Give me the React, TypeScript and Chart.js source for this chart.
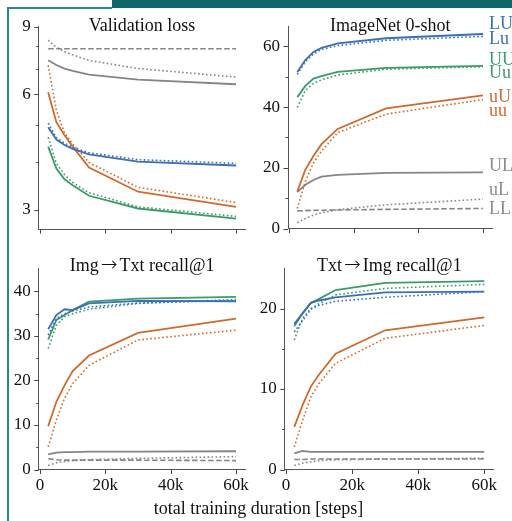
import React, { useEffect, useRef } from "react";
import { Chart, registerables } from "chart.js";
Chart.register(...registerables);

const FONT = '"Liberation Serif", "Times New Roman", serif';
const ARROW_FONT = '"DejaVu Sans", sans-serif';

// ---------- data ----------
const steps = [2500, 5000, 7500, 10000, 15000, 30000, 60000];
const xTickValues = [0, 20000, 40000, 60000];

// Validation loss
const lossLU = [4.92, 4.57, 4.42, 4.32, 4.18, 4.0, 3.91];
const lossLu = [5.04, 4.62, 4.47, 4.36, 4.22, 4.05, 3.96];
const lossUU = [4.38, 3.84, 3.6, 3.47, 3.26, 3.02, 2.84];
const lossUu = [4.63, 3.96, 3.7, 3.53, 3.32, 3.05, 2.88];
const lossuU = [6.07, 5.07, 4.69, 4.38, 3.86, 3.34, 3.05];
const lossuu = [7.14, 5.45, 4.75, 4.45, 3.98, 3.43, 3.13];
const lossUL = [7.36, 7.15, 7.0, 6.9, 6.75, 6.55, 6.37];
const lossuL = [8.3, 7.95, 7.75, 7.6, 7.35, 7.0, 6.65];
const lossLL = [7.88, 7.88, 7.88, 7.88, 7.88, 7.88, 7.88];

// ImageNet 0-shot
const inLU = [51.6, 55.5, 58.2, 59.5, 61.0, 62.7, 64.1];
const inLu = [50.8, 55.0, 57.5, 59.0, 60.3, 62.0, 63.3];
const inUU = [43.3, 47.0, 49.4, 50.2, 51.6, 52.9, 53.6];
const inUu = [39.9, 45.5, 47.8, 49.0, 50.6, 52.5, 53.3];
const inuU = [12.2, 19.4, 23.9, 27.8, 32.8, 39.6, 43.9];
const inuu = [6.6, 15.5, 21.6, 25.5, 31.6, 37.7, 42.5];
const inUL = [12.0, 14.4, 16.0, 17.1, 17.7, 18.3, 18.5];
const inuL = [1.9, 3.3, 4.4, 5.2, 6.2, 7.8, 9.7];
const inLL = [5.8, 5.9, 6.0, 6.0, 6.1, 6.3, 6.6];

// Img->Txt recall@1
const i2tLU = [31.5, 34.7, 36.0, 35.8, 37.3, 37.9, 37.8];
const i2tLu = [30.2, 33.9, 35.0, 35.6, 36.5, 37.4, 38.0];
const i2tUU = [29.2, 33.6, 34.7, 35.8, 37.7, 38.4, 38.8];
const i2tUu = [27.2, 32.4, 34.3, 35.0, 36.0, 37.3, 38.2];
const i2tuU = [9.7, 15.2, 18.9, 22.1, 25.6, 30.7, 33.9];
const i2tuu = [5.1, 11.1, 16.0, 19.3, 23.4, 29.1, 31.3];
const i2tUL = [3.4, 3.8, 3.9, 3.9, 4.0, 4.0, 4.1];
const i2tuL = [0.9, 1.5, 1.8, 2.0, 2.2, 2.5, 2.9];
const i2tLL = [2.4, 2.2, 2.1, 2.1, 2.1, 2.1, 2.0];

// Txt->Img recall@1
const t2iLU = [18.1, 19.4, 20.7, 21.0, 21.4, 22.0, 22.1];
const t2iLu = [17.1, 18.5, 19.9, 20.4, 20.9, 21.4, 22.1];
const t2iUU = [17.8, 19.4, 20.7, 21.2, 22.3, 23.2, 23.4];
const t2iUu = [16.1, 18.8, 20.0, 20.6, 21.7, 22.5, 23.0];
const t2iuU = [5.3, 8.0, 10.3, 11.8, 14.4, 17.3, 18.9];
const t2iuu = [2.8, 6.1, 9.0, 10.7, 13.2, 16.3, 17.9];
const t2iUL = [2.0, 2.3, 2.2, 2.2, 2.2, 2.2, 2.2];
const t2iuL = [0.5, 0.8, 0.95, 1.1, 1.2, 1.3, 1.4];
const t2iLL = [1.25, 1.25, 1.3, 1.3, 1.3, 1.3, 1.3];

// y tick values (all) and labelled ones
const lossTicks = [3, 4, 5, 6, 7, 8, 9];
const lossMajor = [3, 6, 9];
const inTicks = [0, 10, 20, 30, 40, 50, 60];
const inMajor = [0, 20, 40, 60];
const i2tTicks = [0, 5, 10, 15, 20, 25, 30, 35, 40];
const i2tMajor = [0, 10, 20, 30, 40];
const t2iTicks = [0, 5, 10, 15, 20];
const t2iMajor = [0, 10, 20];

// series names / legend labels (ImageNet panel)
const seriesNames = ["LU", "Lu", "UU", "Uu", "uU", "uu", "UL", "uL", "LL"];
const legendValues = [67.2, 62.5, 55.5, 51.2, 43.2, 38.6, 20.5, 12.6, 6.4];

// ---------- styles ----------
const BLUE = "#3a6fb5";
const GREEN = "#3c9a6b";
const ORANGE = "#d0692c";
const GRAY = "#858585";
const seriesColor = [BLUE, BLUE, GREEN, GREEN, ORANGE, ORANGE, GRAY, GRAY, GRAY];
const seriesStyle = ["solid", "dot", "solid", "dot", "solid", "dot", "solid", "dot", "dash"];

function makeDatasets(vals: number[][]) {
  return vals.map((v, k) => {
    const st = seriesStyle[k];
    return {
      label: seriesNames[k],
      data: steps.map((s, i) => ({ x: s, y: v[i] })),
      borderColor: seriesColor[k],
      borderWidth: st === "solid" ? 1.8 : 1.6,
      borderDash: st === "dot" ? [1.6, 2.4] : st === "dash" ? [5.5, 2.5] : [],
      borderCapStyle: "butt",
      pointRadius: 0,
      fill: false,
      tension: 0,
    };
  });
}

function drawTitle(ctx: CanvasRenderingContext2D, text: string, cx: number, baseline: number) {
  const parts = text.split("→");
  const mainFont = `18px ${FONT}`;
  const arrowFont = `200 20px ${ARROW_FONT}`;
  const gap = 2;
  ctx.font = mainFont;
  const w0 = ctx.measureText(parts[0]).width;
  const w2 = parts.length > 1 ? ctx.measureText(parts[1]).width : 0;
  ctx.font = arrowFont;
  const wa = parts.length > 1 ? ctx.measureText("→").width + gap * 2 : 0;
  const total = w0 + wa + w2;
  let x = cx - total / 2;
  ctx.textAlign = "left";
  ctx.textBaseline = "alphabetic";
  ctx.font = mainFont;
  ctx.fillText(parts[0], x, baseline);
  x += w0;
  if (parts.length > 1) {
    ctx.font = arrowFont;
    ctx.fillText("→", x + gap, baseline - 0.5);
    x += wa;
    ctx.font = mainFont;
    ctx.fillText(parts[1], x, baseline);
  }
}

const decorPlugin = {
  id: "decor",
  afterDraw(chart: any, _args: any, opts: any) {
    const ctx = chart.ctx;
    const xs = chart.scales.x;
    const ys = chart.scales.y;
    const ca = chart.chartArea;
    ctx.save();
    ctx.strokeStyle = "#444";
    ctx.lineWidth = 1;
    // y ticks
    for (const t of ys.ticks) {
      const py = Math.round(ys.getPixelForValue(t.value)) + 0.5;
      const len = t.major ? 4.5 : 2.5;
      ctx.beginPath();
      ctx.moveTo(ca.left - len, py);
      ctx.lineTo(ca.left, py);
      ctx.stroke();
    }
    // x ticks
    for (const t of xs.ticks) {
      const px = Math.round(xs.getPixelForValue(t.value)) + 0.5;
      ctx.beginPath();
      ctx.moveTo(px, ca.bottom);
      ctx.lineTo(px, ca.bottom + 4.5);
      ctx.stroke();
    }
    // title
    ctx.fillStyle = "#111";
    drawTitle(ctx, opts.title, (ca.left + ca.right) / 2, opts.titleY + 6);
    // side labels
    if (opts.side) {
      ctx.font = `18px ${FONT}`;
      ctx.textAlign = "left";
      ctx.textBaseline = "middle";
      const lx = xs.getPixelForValue(steps[steps.length - 1]) + 6;
      seriesNames.forEach((n, k) => {
        ctx.fillStyle = seriesColor[k] === GRAY ? "#8c8c8c" : seriesColor[k];
        ctx.fillText(n, lx, ys.getPixelForValue(legendValues[k]));
      });
    }
    ctx.restore();
  },
};

type PanelProps = {
  left: number;
  top: number;
  width: number;
  height: number;
  area: { left: number; right: number; top: number; bottom: number };
  title: string;
  titleY: number;
  yType: string;
  yMin: number;
  yMax: number;
  yTicks: number[];
  yMajor: number[];
  vals: number[][];
  xLabels: boolean;
  side?: boolean;
};

function Panel(p: PanelProps) {
  const ref = useRef<HTMLCanvasElement>(null);
  useEffect(() => {
    const chart = new Chart(ref.current as HTMLCanvasElement, {
      type: "line",
      data: { datasets: makeDatasets(p.vals) as any },
      plugins: [decorPlugin],
      options: {
        animation: false,
        responsive: false,
        devicePixelRatio: 1,
        layout: {
          padding: { left: 0, top: p.area.top, right: p.width - p.area.right, bottom: 0 },
        },
        plugins: {
          legend: { display: false },
          tooltip: { enabled: false },
          decor: { title: p.title, titleY: p.titleY, side: !!p.side },
        } as any,
        scales: {
          x: {
            type: "linear",
            min: -375,
            max: 62875,
            afterFit: (s: any) => {
              s.height = p.height - p.area.bottom;
            },
            afterBuildTicks: (s: any) => {
              s.ticks = xTickValues.map((v) => ({ value: v, major: true }));
            },
            grid: { display: false, drawTicks: false },
            border: { display: true, color: "#555", width: 1 },
            ticks: {
              display: p.xLabels,
              autoSkip: false,
              maxRotation: 0,
              padding: 6,
              color: "#111",
              font: { family: FONT, size: 17 },
              callback: (v: any) => (v === 0 ? "0" : `${v / 1000}k`),
            },
          },
          y: {
            type: p.yType as any,
            min: p.yMin,
            max: p.yMax,
            afterFit: (s: any) => {
              s.width = p.area.left;
            },
            afterBuildTicks: (s: any) => {
              s.ticks = p.yTicks.map((v) => ({ value: v, major: p.yMajor.includes(v) }));
            },
            grid: { display: false, drawTicks: false },
            border: { display: true, color: "#555", width: 1 },
            ticks: {
              autoSkip: false,
              padding: 8,
              color: "#111",
              font: { family: FONT, size: 17 },
              callback: (v: any) => (p.yMajor.includes(Number(v)) ? String(v) : ""),
            },
          },
        },
      } as any,
    });
    return () => chart.destroy();
  }, []);
  return (
    <canvas
      ref={ref}
      width={p.width}
      height={p.height}
      style={{ position: "absolute", left: p.left, top: p.top, width: p.width, height: p.height }}
    />
  );
}

export default function App() {
  return (
    <div
      style={{
        position: "absolute",
        left: 0,
        top: 0,
        width: 512,
        height: 521,
        overflow: "hidden",
        background: "#fff",
      }}
    >
      <Panel
        left={0}
        top={0}
        width={256}
        height={250}
        area={{ left: 38.8, right: 245.4, top: 26.7, bottom: 229 }}
        title="Validation loss"
        titleY={25}
        yType="logarithmic"
        yMin={2.67}
        yMax={9}
        yTicks={lossTicks}
        yMajor={lossMajor}
        vals={[lossLU, lossLu, lossUU, lossUu, lossuU, lossuu, lossUL, lossuL, lossLL]}
        xLabels={false}
      />
      <Panel
        left={256}
        top={0}
        width={256}
        height={250}
        area={{ left: 32, right: 236.3, top: 26.7, bottom: 228.5 }}
        title="ImageNet 0-shot"
        titleY={25}
        yType="linear"
        yMin={0}
        yMax={66.5}
        yTicks={inTicks}
        yMajor={inMajor}
        vals={[inLU, inLu, inUU, inUu, inuU, inuu, inUL, inuL, inLL]}
        xLabels={false}
        side
      />
      <Panel
        left={0}
        top={250}
        width={256}
        height={271}
        area={{ left: 38.8, right: 245.4, top: 18.3, bottom: 219.5 }}
        title="Img→Txt recall@1"
        titleY={15}
        yType="linear"
        yMin={0}
        yMax={45.2}
        yTicks={i2tTicks}
        yMajor={i2tMajor}
        vals={[i2tLU, i2tLu, i2tUU, i2tUu, i2tuU, i2tuu, i2tUL, i2tuL, i2tLL]}
        xLabels
      />
      <Panel
        left={256}
        top={250}
        width={256}
        height={271}
        area={{ left: 28.8, right: 237.8, top: 18.3, bottom: 219.5 }}
        title="Txt→Img recall@1"
        titleY={15}
        yType="linear"
        yMin={0}
        yMax={25}
        yTicks={t2iTicks}
        yMajor={t2iMajor}
        vals={[t2iLU, t2iLu, t2iUU, t2iUu, t2iuU, t2iuu, t2iUL, t2iuL, t2iLL]}
        xLabels
      />
      <div
        style={{
          position: "absolute",
          left: 258.5,
          top: 498,
          transform: "translateX(-50%)",
          whiteSpace: "nowrap",
          font: `18px ${FONT}`,
          lineHeight: "20px",
          color: "#111",
        }}
      >
        total training duration [steps]
      </div>
      {/* frame */}
      <div style={{ position: "absolute", left: 112, top: 0, width: 400, height: 8, background: "#0f6767" }} />
      <div style={{ position: "absolute", left: 7, top: 7, width: 105, height: 2, background: "#2b8787" }} />
      <div style={{ position: "absolute", left: 7, top: 7, width: 2, height: 514, background: "#2b8787" }} />
    </div>
  );
}
